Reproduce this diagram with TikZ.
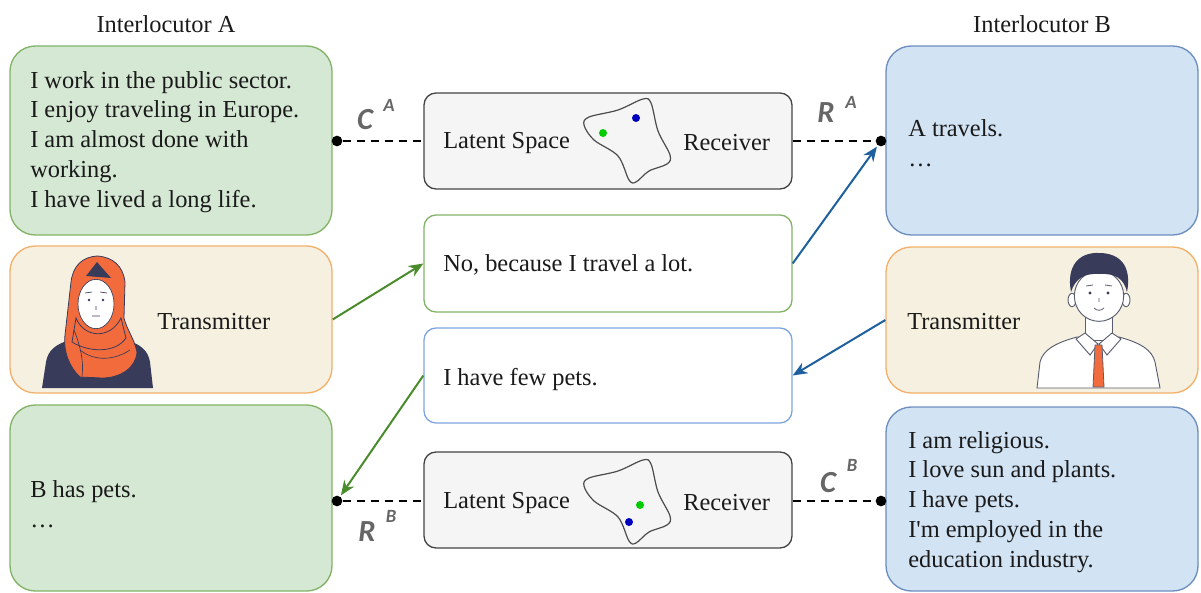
\documentclass[tikz,border=0pt]{standalone}
\usepackage{fontspec}
\setmainfont{Liberation Serif}
\newfontfamily\lblfont{Carlito}
\usetikzlibrary{arrows.meta}

\definecolor{gfill}{HTML}{D5E8D4}
\definecolor{gline}{HTML}{82B366}
\definecolor{bfill}{HTML}{D2E3F4}
\definecolor{bline}{HTML}{6C8EBF}
\definecolor{ofill}{HTML}{F6F0E0}
\definecolor{oline}{HTML}{F2B06A}
\definecolor{lfill}{HTML}{F5F5F5}
\definecolor{lline}{HTML}{444444}
\definecolor{mblue}{HTML}{7EA6E0}
\definecolor{garrow}{HTML}{4A8B2C}
\definecolor{barrow}{HTML}{1E5F9E}
\definecolor{txt}{HTML}{1A1A1A}
\definecolor{navy}{HTML}{383B5A}
\definecolor{scarf}{HTML}{F26B3D}
\definecolor{outl}{HTML}{5A5D70}

\tikzset{
  panel/.style={draw, line width=1pt, rounded corners=19pt, minimum width=241.5pt, inner sep=0pt},
  gpanel/.style={panel, fill=gfill, draw=gline},
  bpanel/.style={panel, fill=bfill, draw=bline, minimum width=234pt},
  opanel/.style={panel, fill=ofill, draw=oline},
  midbox/.style={draw, line width=1pt, rounded corners=9pt, minimum width=276pt, minimum height=72pt, inner sep=0pt},
  latbox/.style={midbox, fill=lfill, draw=lline},
  txtnode/.style={anchor=west, inner sep=0pt, align=left, font=\fontsize{18.3}{22.4}\selectfont, text=txt},
  dashline/.style={dash pattern=on 6pt off 4.5pt, line width=1.4pt},
  jdot/.style={circle, fill=black, inner sep=0pt, minimum size=8pt},
  arr/.style={line width=1.5pt, -{Stealth[length=11pt,width=9pt]}},
  biglbl/.style={font=\lblfont\itshape\bfseries\fontsize{23}{23}\selectfont, text=black!60, inner sep=0pt},
  suplbl/.style={font=\lblfont\itshape\bfseries\fontsize{14}{14}\selectfont, text=black!60, inner sep=0pt},
  blob/.pic={
    \draw[line width=0.9pt, black!70]
      plot[smooth cycle, tension=0.55] coordinates
      {(-43,-16) (-38,-24) (-9,-31) (16,-42) (24,-38) (31,-10)
       (43,14) (40,23) (22,30) (9,41) (2,39) (-9,15) (-33,-1)};
  }
}

\begin{document}
\begin{tikzpicture}[x=0.75pt, y=-0.75pt]
\useasboundingbox (0,0) rectangle (1201,592);

% headings
\node[txtnode, anchor=center] (hA) at (166,24) {Interlocutor A};
\node[txtnode, anchor=center] (hB) at (1042,24) {Interlocutor B};

% side panels
\node[gpanel, minimum height=141.75pt] (ca) at (171,140.5) {};
\node[opanel, minimum height=110.25pt] (ta) at (171,319.5) {};
\node[gpanel, minimum height=139.5pt] (rb) at (171,498) {};
\node[bpanel, minimum height=141.75pt] (ra) at (1042,140.5) {};
\node[opanel, minimum width=234pt, minimum height=109.5pt] (tb) at (1042,320) {};
\node[bpanel, minimum height=138pt] (cb) at (1042,499) {};

% central boxes
\node[latbox] (latA) at (608,141) {};
\node[midbox, draw=gline, fill=white, minimum height=72.75pt] (msgA) at (608,263.5) {};
\node[midbox, draw=mblue, fill=white, minimum height=71.25pt] (msgB) at (608,375.5) {};
\node[latbox] (latB) at (608,500) {};

% panel texts
\node[txtnode] (caT) at (30,142) {I work in the public sector.\\I enjoy traveling in Europe.\\I am almost done with\\working.\\I have lived a long life.};
\node[txtnode] (raT) at (908,143) {A travels.\\\dots};
\node[txtnode] (rbT) at (30,504) {B has pets.\\\dots};
\node[txtnode] (cbT) at (908,502) {I am religious.\\I love sun and plants.\\I have pets.\\I\textquotesingle m employed in the\\education industry.};
\node[txtnode] (taT) at (157,322) {Transmitter};
\node[txtnode] (tbT) at (907,322) {Transmitter};

% central texts
\node[txtnode] (latAl) at (443,143) {Latent Space};
\node[txtnode] (latAr) at (683,143) {Receiver};
\node[txtnode] (latBl) at (443,503) {Latent Space};
\node[txtnode] (latBr) at (683,503) {Receiver};
\node[txtnode] (msgAT) at (443,265) {No, because I travel a lot.};
\node[txtnode] (msgBT) at (443,380) {I have few pets.};

% latent space blobs
\pic at (627,141) {blob};
\fill[green!80!black] (603,133) circle (3pt);
\fill[blue!75!black] (636,118) circle (3pt);
\pic at (627,502) {blob};
\fill[green!80!black] (640,505) circle (3pt);
\fill[blue!75!black] (629,522) circle (3pt);

% connection points
\node[jdot] (dCA) at (337,141) {};
\node[jdot] (dRA) at (881,141) {};
\node[jdot] (dRB) at (337,501) {};
\node[jdot] (dCB) at (881,501) {};

% dashed links
\draw[dashline] (dCA) -- (latA.west);
\draw[dashline] (latA.east) -- (dRA);
\draw[dashline] (dRB) -- (latB.west |- dRB);
\draw[dashline] (latB.east |- dCB) -- (dCB);

% link labels
\node[biglbl] (lC1) at (365,120) {C};
\node[suplbl] (lC1s) at (389,105) {A};
\node[biglbl] (lR1) at (826,113) {R};
\node[suplbl] (lR1s) at (851,102) {A};
\node[biglbl] (lR2) at (367,532) {R};
\node[suplbl] (lR2s) at (391,516) {B};
\node[biglbl] (lC2) at (828,483) {C};
\node[suplbl] (lC2s) at (852,465) {B};

% message arrows
\draw[arr, garrow] (ta.east) -- (msgA.west);
\draw[arr, barrow, shorten >=1pt] (msgA.east) -- (dRA);
\draw[arr, barrow] (tb.west) -- (msgB.east);
\draw[arr, garrow, shorten >=1pt] (msgB.west) -- (dRB);

% speaker A
\fill[navy] (42,388) -- (46,362) .. controls (48,350) and (56,344) .. (70,340) -- (126,340) .. controls (140,344) and (148,350) .. (150,362) -- (153,388) -- cycle;
\filldraw[fill=scarf, draw=navy, line width=0.6pt] (97,256) .. controls (82,257) and (73,266) .. (71,282) -- (65,335) .. controls (63,352) and (70,368) .. (80,377) -- (102,378) .. controls (120,378) and (136,368) .. (137,352) .. controls (134,338) and (127,330) .. (124,318) -- (125,282) .. controls (123,266) and (113,257) .. (97,256) -- cycle;
\fill[navy] (86,276) -- (97,262) -- (111,278) -- cycle;
\filldraw[fill=white, draw=navy, line width=0.5pt] (96,304) ellipse [x radius=13.5pt, y radius=18.5pt];
\filldraw[fill=scarf, draw=navy, line width=0.6pt] (76,318) .. controls (84,338) and (110,340) .. (121,318) -- (126,338) .. controls (115,354) and (88,352) .. (72,342) -- cycle;
\draw[navy, line width=0.5pt] (80,350) .. controls (95,362) and (115,360) .. (130,350);
\draw[navy, line width=0.5pt] (74,330) .. controls (80,345) and (84,360) .. (82,376);
\fill[navy] (89,300) circle (1.1pt) (103,300) circle (1.1pt);
\draw[navy, line width=0.5pt] (85,293) -- (92,292) (100,292) -- (107,293) (96,306) -- (96,310) (92,316) -- (100,316);

% speaker B
\filldraw[fill=white, draw=outl, line width=0.7pt] (1037,388) -- (1040,362) .. controls (1043,350) and (1055,343) .. (1077,337) -- (1119,337) .. controls (1141,343) and (1152,350) .. (1155,362) -- (1160,388) -- cycle;
\filldraw[fill=white, draw=outl, line width=0.7pt] (1085,312) -- (1085,340) -- (1112,340) -- (1112,312) -- cycle;
\filldraw[fill=white, draw=outl, line width=0.7pt] (1085,333) -- (1098,344) -- (1090,355) -- (1076,339) -- cycle;
\filldraw[fill=white, draw=outl, line width=0.7pt] (1112,333) -- (1099,344) -- (1107,355) -- (1121,339) -- cycle;
\filldraw[fill=scarf, draw=outl, line width=0.6pt] (1095,345) -- (1102,345) -- (1104,387) -- (1093,387) -- cycle;
\filldraw[fill=white, draw=outl, line width=0.7pt] (1072,300) ellipse [x radius=3pt, y radius=5pt];
\filldraw[fill=white, draw=outl, line width=0.7pt] (1126,300) ellipse [x radius=3pt, y radius=5pt];
\filldraw[fill=white, draw=outl, line width=0.7pt] (1099,296) ellipse [x radius=18.5pt, y radius=19pt];
\fill[navy] (1071,292) .. controls (1066,266) and (1079,252) .. (1099,253) .. controls (1120,253) and (1132,266) .. (1127,292) .. controls (1124,279) and (1116,273) .. (1099,274) .. controls (1084,273) and (1075,279) .. (1071,292) -- cycle;
\fill[navy] (1090,293) circle (1.2pt) (1108,293) circle (1.2pt);
\draw[outl, line width=0.6pt] (1086,286) -- (1093,285) (1105,285) -- (1112,286) (1099,298) -- (1099,302);
\draw[outl, line width=0.6pt] (1094,308) .. controls (1097,311) and (1101,311) .. (1104,308);

\end{tikzpicture}
\end{document}
